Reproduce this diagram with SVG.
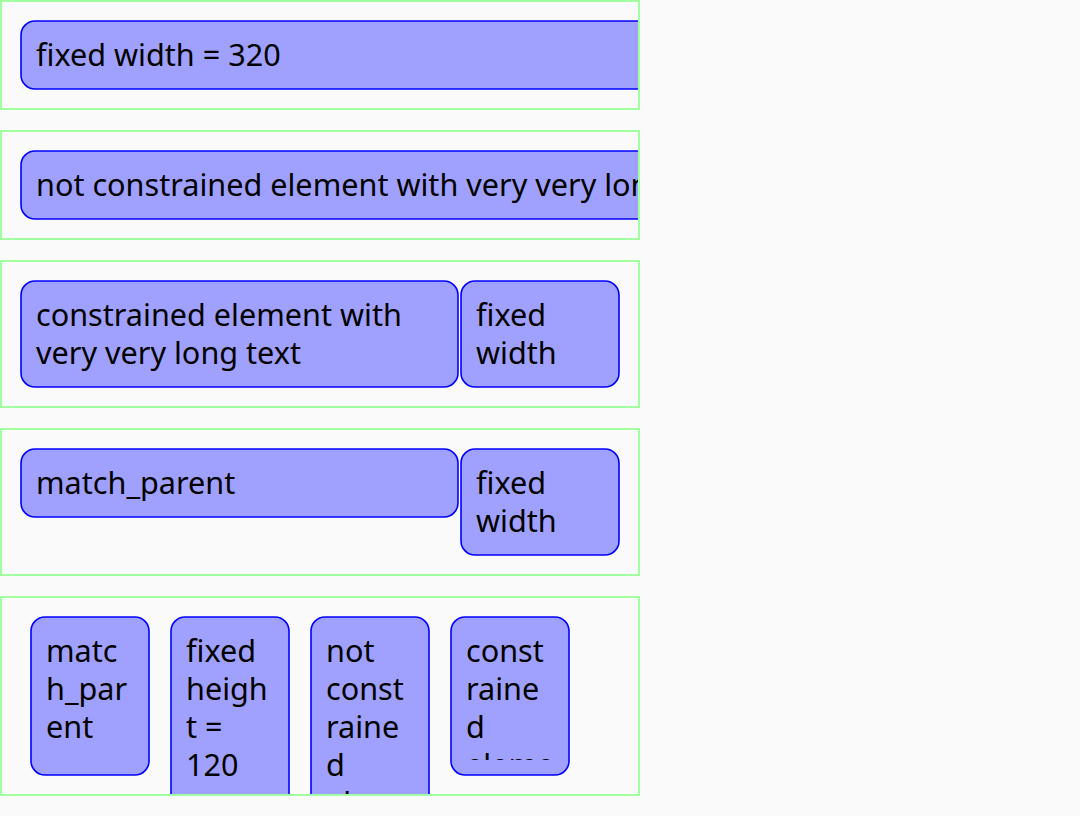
<svg xmlns="http://www.w3.org/2000/svg" width="1080" height="816" viewBox="0 0 1080 816">
<style>
.bg{fill:#fafafa}
.cont{fill:none;stroke:#a0ffa0;stroke-width:2}
.box{fill:#a0a0ff;stroke:#0000ff;stroke-width:1.6}
text{font-family:"Noto Sans","Open Sans",sans-serif;font-size:30.6px;fill:#000}
</style>
<defs>
<clipPath id="c1"><rect x="2" y="2" width="636" height="106"/></clipPath>
<clipPath id="c2"><rect x="2" y="132" width="636" height="106"/></clipPath>
<clipPath id="c5"><rect x="2" y="598" width="636" height="196"/></clipPath>
<clipPath id="t54"><rect x="451" y="632" width="118" height="128"/></clipPath>
</defs>
<rect class="bg" x="0" y="0" width="1080" height="816"/>
<g id="row1">
<rect class="cont" x="1" y="1" width="638" height="108"/>
<g id="n1" clip-path="url(#c1)">
<rect class="box" x="21" y="21" width="700" height="68" rx="14"/>
<text x="36" y="66">fixed width = 320</text>
</g>
</g>
<g id="row2">
<rect class="cont" x="1" y="131" width="638" height="108"/>
<g id="n2" clip-path="url(#c2)">
<rect class="box" x="21" y="151" width="800" height="68" rx="14"/>
<text x="36" y="196">not constrained element with very very long text</text>
</g>
</g>
<g id="row3">
<rect class="cont" x="1" y="261" width="638" height="146"/>
<g id="n3a">
<rect class="box" x="21" y="281" width="437" height="106" rx="14"/>
<text x="36" y="326">constrained element with</text>
<text x="36" y="364">very very long text</text>
</g>
<g id="n3b">
<rect class="box" x="461" y="281" width="158" height="106" rx="14"/>
<text x="476" y="326">fixed</text>
<text x="476" y="364">width</text>
</g>
</g>
<g id="row4">
<rect class="cont" x="1" y="429" width="638" height="146"/>
<g id="n4a">
<rect class="box" x="21" y="449" width="437" height="68" rx="14"/>
<text x="36" y="494">match_parent</text>
</g>
<g id="n4b">
<rect class="box" x="461" y="449" width="158" height="106" rx="14"/>
<text x="476" y="494">fixed</text>
<text x="476" y="532">width</text>
</g>
</g>
<g id="row5">
<rect class="cont" x="1" y="597" width="638" height="198"/>
<g clip-path="url(#c5)">
<g id="n5a">
<rect class="box" x="31" y="617" width="118" height="158" rx="14"/>
<text x="46" y="662">matc</text>
<text x="46" y="700">h_par</text>
<text x="46" y="738">ent</text>
</g>
<g id="n5b">
<rect class="box" x="171" y="617" width="118" height="240" rx="14"/>
<text x="186" y="662">fixed</text>
<text x="186" y="700">heigh</text>
<text x="186" y="738">t =</text>
<text x="186" y="776">120</text>
</g>
<g id="n5c">
<rect class="box" x="311" y="617" width="118" height="240" rx="14"/>
<text x="326" y="662">not</text>
<text x="326" y="700">const</text>
<text x="326" y="738">raine</text>
<text x="326" y="776">d</text>
<text x="326" y="814">eleme</text>
</g>
<g id="n5d">
<rect class="box" x="451" y="617" width="118" height="158" rx="14"/>
<g clip-path="url(#t54)">
<text x="466" y="662">const</text>
<text x="466" y="700">raine</text>
<text x="466" y="738">d</text>
<text x="466" y="776">eleme</text>
</g>
</g>
</g>
</g>
</svg>
